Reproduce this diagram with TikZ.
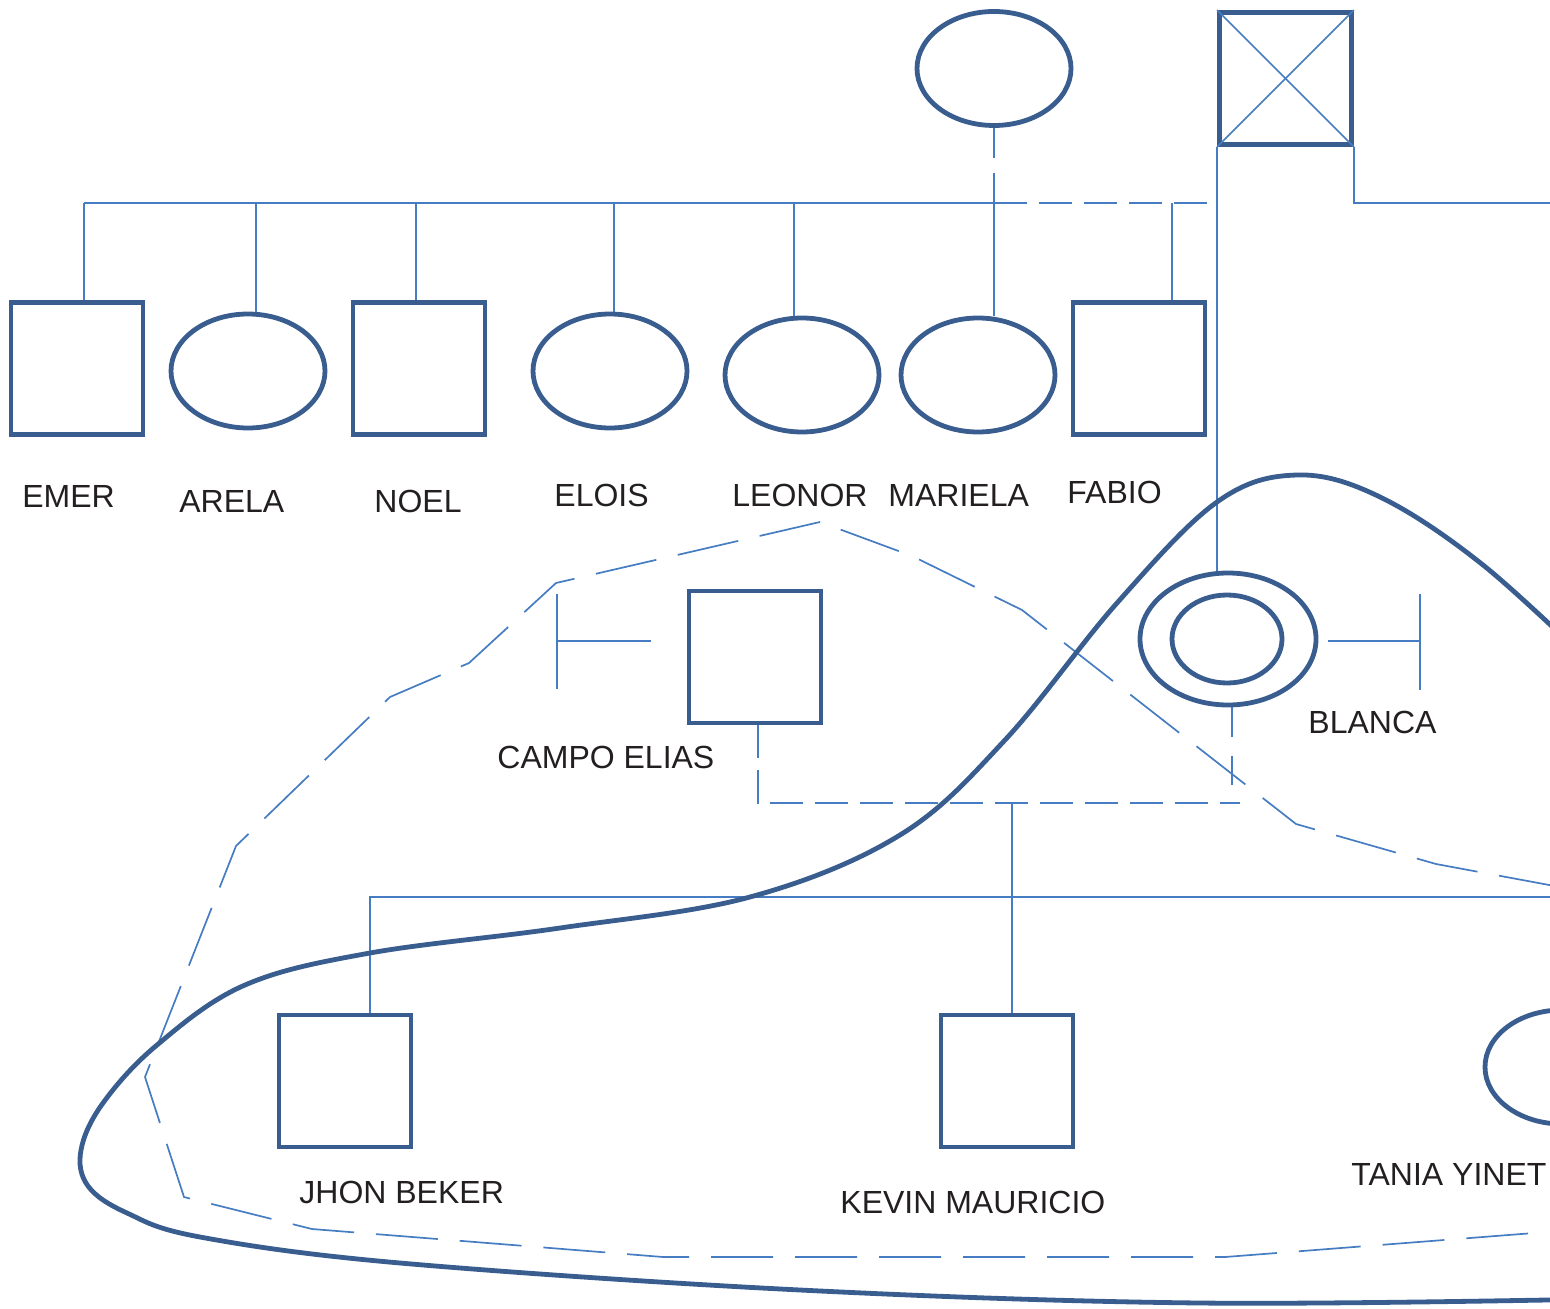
\documentclass[tikz,border=0pt]{standalone}
\usepackage{fontspec}
\setmainfont{Liberation Sans}
\usetikzlibrary{shapes.geometric}
\definecolor{shapeblue}{RGB}{56,93,142}
\definecolor{linkblue}{RGB}{70,124,194}
\definecolor{namegray}{RGB}{35,31,32}
\begin{document}
\begin{tikzpicture}[x=0.5pt, y=-0.5pt]
  \tikzstyle{male} = [draw=shapeblue, line width=2.4pt, minimum size=66pt, inner sep=0pt]
  \tikzstyle{female} = [draw=shapeblue, line width=2.4pt, ellipse, minimum width=77pt, minimum height=57pt, inner sep=0pt]
  \tikzstyle{link} = [draw=linkblue, line width=0.85pt]
  \tikzstyle{union} = [link, dash pattern=on 16.5pt off 6pt]
  \tikzstyle{bond} = [link, dash pattern=on 31pt off 11pt]
  \tikzstyle{nametag} = [anchor=base west, inner sep=0pt, text=namegray, font=\fontsize{16}{19}\selectfont]
  \useasboundingbox (0,0) rectangle (1550,1309);
  \clip (0,0) rectangle (1550,1309);

  \node[female] (mother) at (994,68.5) {};
  \node[male] (father) at (1285.5,78.5) {};
  \draw[link] (father.north west) -- (father.south east);
  \draw[link] (father.north east) -- (father.south west);

  \node[male] (emer) at (77,368.5) {};
  \node[female] (arela) at (248,371) {};
  \node[male] (noel) at (419,368.5) {};
  \node[female] (elois) at (610,371) {};
  \node[female] (leonor) at (802,375) {};
  \node[female] (mariela) at (978,375) {};
  \node[male] (fabio) at (1139,368.5) {};

  \node[nametag] at (22,508) {EMER};
  \node[nametag] at (179,513) {ARELA};
  \node[nametag] at (374,513) {NOEL};
  \node[nametag] at (554,507) {ELOIS};
  \node[nametag] at (732,507) {LEONOR};
  \node[nametag] at (888,507) {MARIELA};
  \node[nametag] at (1067,504) {FABIO};

  \coordinate (sibl) at (84,203);
  \coordinate (sibm) at (mother.south |- sibl);
  \draw[link] (sibl) -- (sibm);
  \draw[union] (sibm) -- (sibm -| father.south west);
  \draw[link, dash pattern=on 15pt off 7.5pt] (mother.south) -- (sibm);
  \foreach \kid/\dx in {emer/84, arela/256, noel/416, elois/614, leonor/794, mariela/994, fabio/1172}
    \draw[link] (\dx,203) -- (\kid.north -| \dx,0);
  \coordinate (eastline) at (1560,203);
  \draw[link] (father.south east) |- (eastline);

  \node[male] (campo) at (755,657) {};
  \node[female, minimum width=88pt, minimum height=66pt] (blanca) at (1228,639) {};
  \node[female, minimum width=55pt, minimum height=44pt] (blancain) at (1227,639) {};
  \node[nametag] at (497,768) {CAMPO ELIAS};
  \node[nametag] at (1308,733) {BLANCA};
  \draw[link] (father.south west) -- (father.south west |- blanca.north);

  \coordinate (cbar) at (557,641);
  \draw[link] (cbar) -- (651,641);
  \draw[link] (557,594) -- (557,689);
  \coordinate (bbar) at (1420,641);
  \draw[link] (1328,641) -- (bbar);
  \draw[link] (1420,594) -- (1420,690);

  \coordinate (kid3) at (1012,803);
  \draw[union] (campo.south -| 758,0) -- (758,803) -- (1240,803);
  \draw[union, dash pattern=on 15pt off 9.5pt] (blanca.south -| 1232,0) -- (1232,785);

  \node[male] (jhon) at (345,1081) {};
  \node[male] (kevin) at (1007,1081) {};
  \node[female] (tania) at (1562,1067) {};
  \node[nametag] at (299,1203) {JHON BEKER};
  \node[nametag] at (840,1213) {KEVIN MAURICIO};
  \node[nametag] at (1351,1185) {TANIA YINET};

  \draw[link] (kid3) -- (kevin.north -| kid3);
  \coordinate (halfline) at (1560,897);
  \draw[link] (jhon.north -| 370,0) |- (halfline);

  \draw[bond] (1560,887) -- (1436,864) -- (1296,824) -- (1022,610) -- (912,556) -- (820,522)
    -- (556,583) -- (469,663) -- (390,697) -- (236,846) -- (145,1077) -- (184,1197)
    -- (312,1229) -- (663,1257) -- (1225,1257) -- (1560,1231);

  \draw[draw=shapeblue, line width=2.4pt] plot[smooth, tension=0.6] coordinates {
    (1600,672) (1483,565) (1380,497) (1297,475) (1217,502) (1117,603)
    (1005,740) (900,835) (750,897) (560,928) (370,953) (245,985)
    (157,1045) (103,1103) (81,1150) (88,1186) (127,1213) (200,1237)
    (400,1263) (800,1290) (1200,1303) (1600,1299)};
\end{tikzpicture}
\end{document}
